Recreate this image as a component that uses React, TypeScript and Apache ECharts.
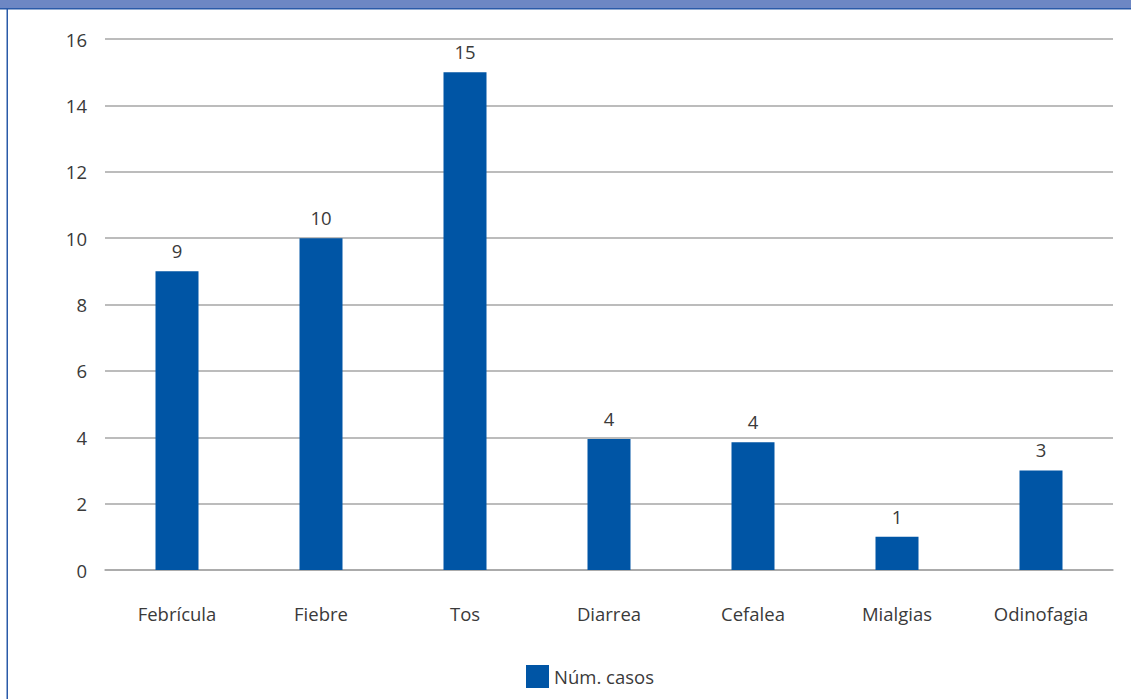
import React, { useEffect, useRef } from "react";
import * as echarts from "echarts";

const categories = ["Febrícula", "Fiebre", "Tos", "Diarrea", "Cefalea", "Mialgias", "Odinofagia"];
const casos = [9, 10, 15, 3.95, 3.85, 1, 3];
const seriesName = "Núm. casos";

export default function App() {
  const ref = useRef<HTMLDivElement>(null);
  useEffect(() => {
    document.body.style.margin = "0";
    const chart = echarts.init(ref.current!, null, { renderer: "svg" });
    const font = "'Open Sans', 'Noto Sans', sans-serif";
    const fs = 18.5;
    const col = "#3a3a3a";
    chart.setOption({
      animation: false,
      backgroundColor: "#ffffff",
      textStyle: { fontFamily: font },
      grid: { left: 105, right: 18, top: 39, bottom: 129, containLabel: false },
      legend: {
        data: [seriesName],
        bottom: 6,
        left: 521,
        icon: "rect",
        itemWidth: 23,
        itemHeight: 23,
        textStyle: { fontSize: fs, color: col, fontFamily: font },
      },
      xAxis: {
        type: "category",
        data: categories,
        axisTick: { show: false },
        axisLine: { lineStyle: { color: "#a6a6a6", width: 1.5 } },
        axisLabel: { fontSize: fs, color: col, margin: 34, fontFamily: font },
      },
      yAxis: {
        type: "value",
        min: 0,
        max: 16,
        interval: 2,
        axisLine: { show: false },
        axisTick: { show: false },
        splitLine: { lineStyle: { color: "#a6a6a6", width: 1.5 } },
        axisLabel: { fontSize: fs, color: col, margin: 18, fontFamily: font },
      },
      series: [
        {
          name: seriesName,
          type: "bar",
          data: casos,
          barWidth: 43,
          itemStyle: { color: "#0055a5" },
          label: {
            show: true,
            position: "top",
            distance: 11,
            fontSize: fs,
            color: col,
            fontFamily: font,
            formatter: (p: any) => String(Math.round(p.value)),
          },
        },
      ],
      graphic: [
        { type: "rect", shape: { x: 0, y: 0, width: 1131, height: 8 }, style: { fill: "#6d87c4" } },
        { type: "rect", shape: { x: 0, y: 8, width: 1131, height: 1.5 }, style: { fill: "#2a5aa8" } },
        { type: "rect", shape: { x: 6.5, y: 9, width: 1.5, height: 690 }, style: { fill: "#2a5aa8" } },
      ],
    });
    return () => chart.dispose();
  }, []);
  return <div ref={ref} style={{ width: 1131, height: 699 }} />;
}
